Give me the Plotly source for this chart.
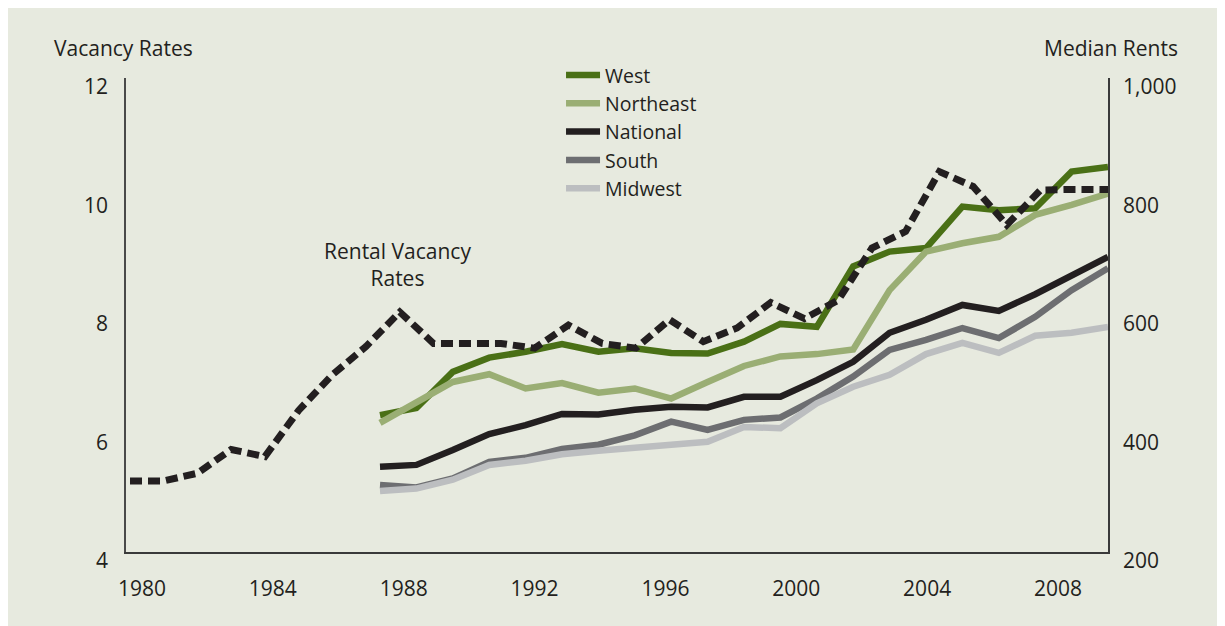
import plotly.graph_objects as go

# ---- data ----
vac_years = list(range(1980, 2010))
vacancy = [5.20, 5.20, 5.33, 5.73, 5.61, 6.39, 6.99, 7.47, 8.05, 7.52,
           7.52, 7.52, 7.44, 7.83, 7.52, 7.44, 7.92, 7.55, 7.78, 8.21,
           7.94, 8.25, 9.13, 9.41, 10.42, 10.17, 9.52, 10.11, 10.12, 10.12]

rent_years = list(range(1989, 2010))
west = [431, 443, 504, 528, 538, 551, 538, 544, 536, 535, 555,
        585, 580, 682, 707, 713, 783, 777, 780, 842, 850]
northeast = [418, 454, 487, 500, 476, 485, 469, 476, 459, 487, 514,
             530, 534, 542, 642, 707, 721, 732, 769, 786, 805]
national = [344, 347, 372, 399, 414, 433, 432, 440, 445, 444, 462,
            462, 490, 521, 570, 592, 617, 607, 635, 668, 698]
south = [313, 309, 324, 352, 359, 374, 381, 397, 420, 406, 423,
         427, 459, 496, 541, 558, 578, 561, 597, 642, 679]
midwest = [303, 307, 322, 347, 354, 365, 371, 375, 381, 386, 411,
           409, 451, 479, 499, 534, 553, 536, 565, 570, 580]

tick_years = [1980, 1984, 1988, 1992, 1996, 2000, 2004, 2008]
vac_ticks = [4, 6, 8, 10, 12]
rent_ticks = [200, 400, 600, 800, 1000]
rent_tick_text = ["200", "400", "600", "800", "1,000"]

series = [
    ("West", west, "#4a7016"),
    ("Northeast", northeast, "#9aae74"),
    ("National", national, "#231f20"),
    ("South", south, "#6d6e71"),
    ("Midwest", midwest, "#bcbec0"),
]

BG = "#e7eadf"
TXT = "#231f20"
FONT = "Open Sans"
FS = 21

fig = go.Figure()

# year axis carrying the tick labels (no visible marks)
fig.add_trace(go.Scatter(
    x=tick_years, y=[None] * len(tick_years), mode="lines",
    xaxis="x", yaxis="y", showlegend=False, hoverinfo="skip",
))

for name, vals, col in series:
    fig.add_trace(go.Scatter(
        x=rent_years, y=vals, name=name, mode="lines",
        line=dict(color=col, width=6.5),
        xaxis="x2", yaxis="y2",
    ))

fig.add_trace(go.Scatter(
    x=vac_years, y=vacancy, name="Rental Vacancy Rates", mode="lines",
    line=dict(color="#231f20", width=7, dash="12px,6px"),
    xaxis="x3", yaxis="y", showlegend=False,
))

fig.update_layout(
    width=1217, height=618,
    margin=dict(l=118, r=117, t=70, b=74),
    paper_bgcolor=BG,
    plot_bgcolor="rgba(0,0,0,0)",
    font=dict(family=FONT, size=FS, color=TXT),
    showlegend=True,
    legend=dict(
        x=0.443, xanchor="left", y=1.047, yanchor="top",
        bgcolor="rgba(0,0,0,0)", font=dict(size=19.5, color=TXT),
        itemwidth=34, tracegroupgap=0,
    ),
    xaxis=dict(
        range=[1979.511, 2009.529], tickvals=tick_years,
        ticks="", showgrid=False, zeroline=False,
        showline=True, linecolor="#3a3a3a", linewidth=1.5,
        ticklabelstandoff=17, tickfont=dict(size=FS, color=TXT),
    ),
    xaxis2=dict(range=[1982.022, 2009], overlaying="x", visible=False),
    xaxis3=dict(range=[1979.881, 2009], overlaying="x", visible=False),
    yaxis=dict(
        range=[4, 12], tickvals=vac_ticks, ticks="", showgrid=False,
        zeroline=False, showline=True, linecolor="#4a4a4a", linewidth=1.5,
        ticklabelstandoff=12, ticklabelshift=9,
        tickfont=dict(size=FS, color=TXT),
    ),
    yaxis2=dict(
        range=[200, 1000], tickvals=rent_ticks, ticktext=rent_tick_text,
        overlaying="y", side="right", ticks="", showgrid=False,
        zeroline=False, showline=True, linecolor="#3a3a3a", linewidth=1.5,
        ticklabelstandoff=9, ticklabelshift=9,
        tickfont=dict(size=FS, color=TXT),
    ),
    annotations=[
        dict(text="Vacancy Rates", xref="paper", yref="paper",
             x=-0.003, y=1.063, xanchor="center", yanchor="middle",
             showarrow=False, font=dict(size=FS, color=TXT)),
        dict(text="Median Rents", xref="paper", yref="paper",
             x=1.003, y=1.063, xanchor="center", yanchor="middle",
             showarrow=False, font=dict(size=FS, color=TXT)),
        dict(text="Rental Vacancy<br>Rates", xref="paper", yref="paper",
             x=0.276, y=0.6055, xanchor="center", yanchor="middle",
             showarrow=False, align="center",
             font=dict(size=FS, color=TXT)),
    ],
)

fig.write_html("out.html")
